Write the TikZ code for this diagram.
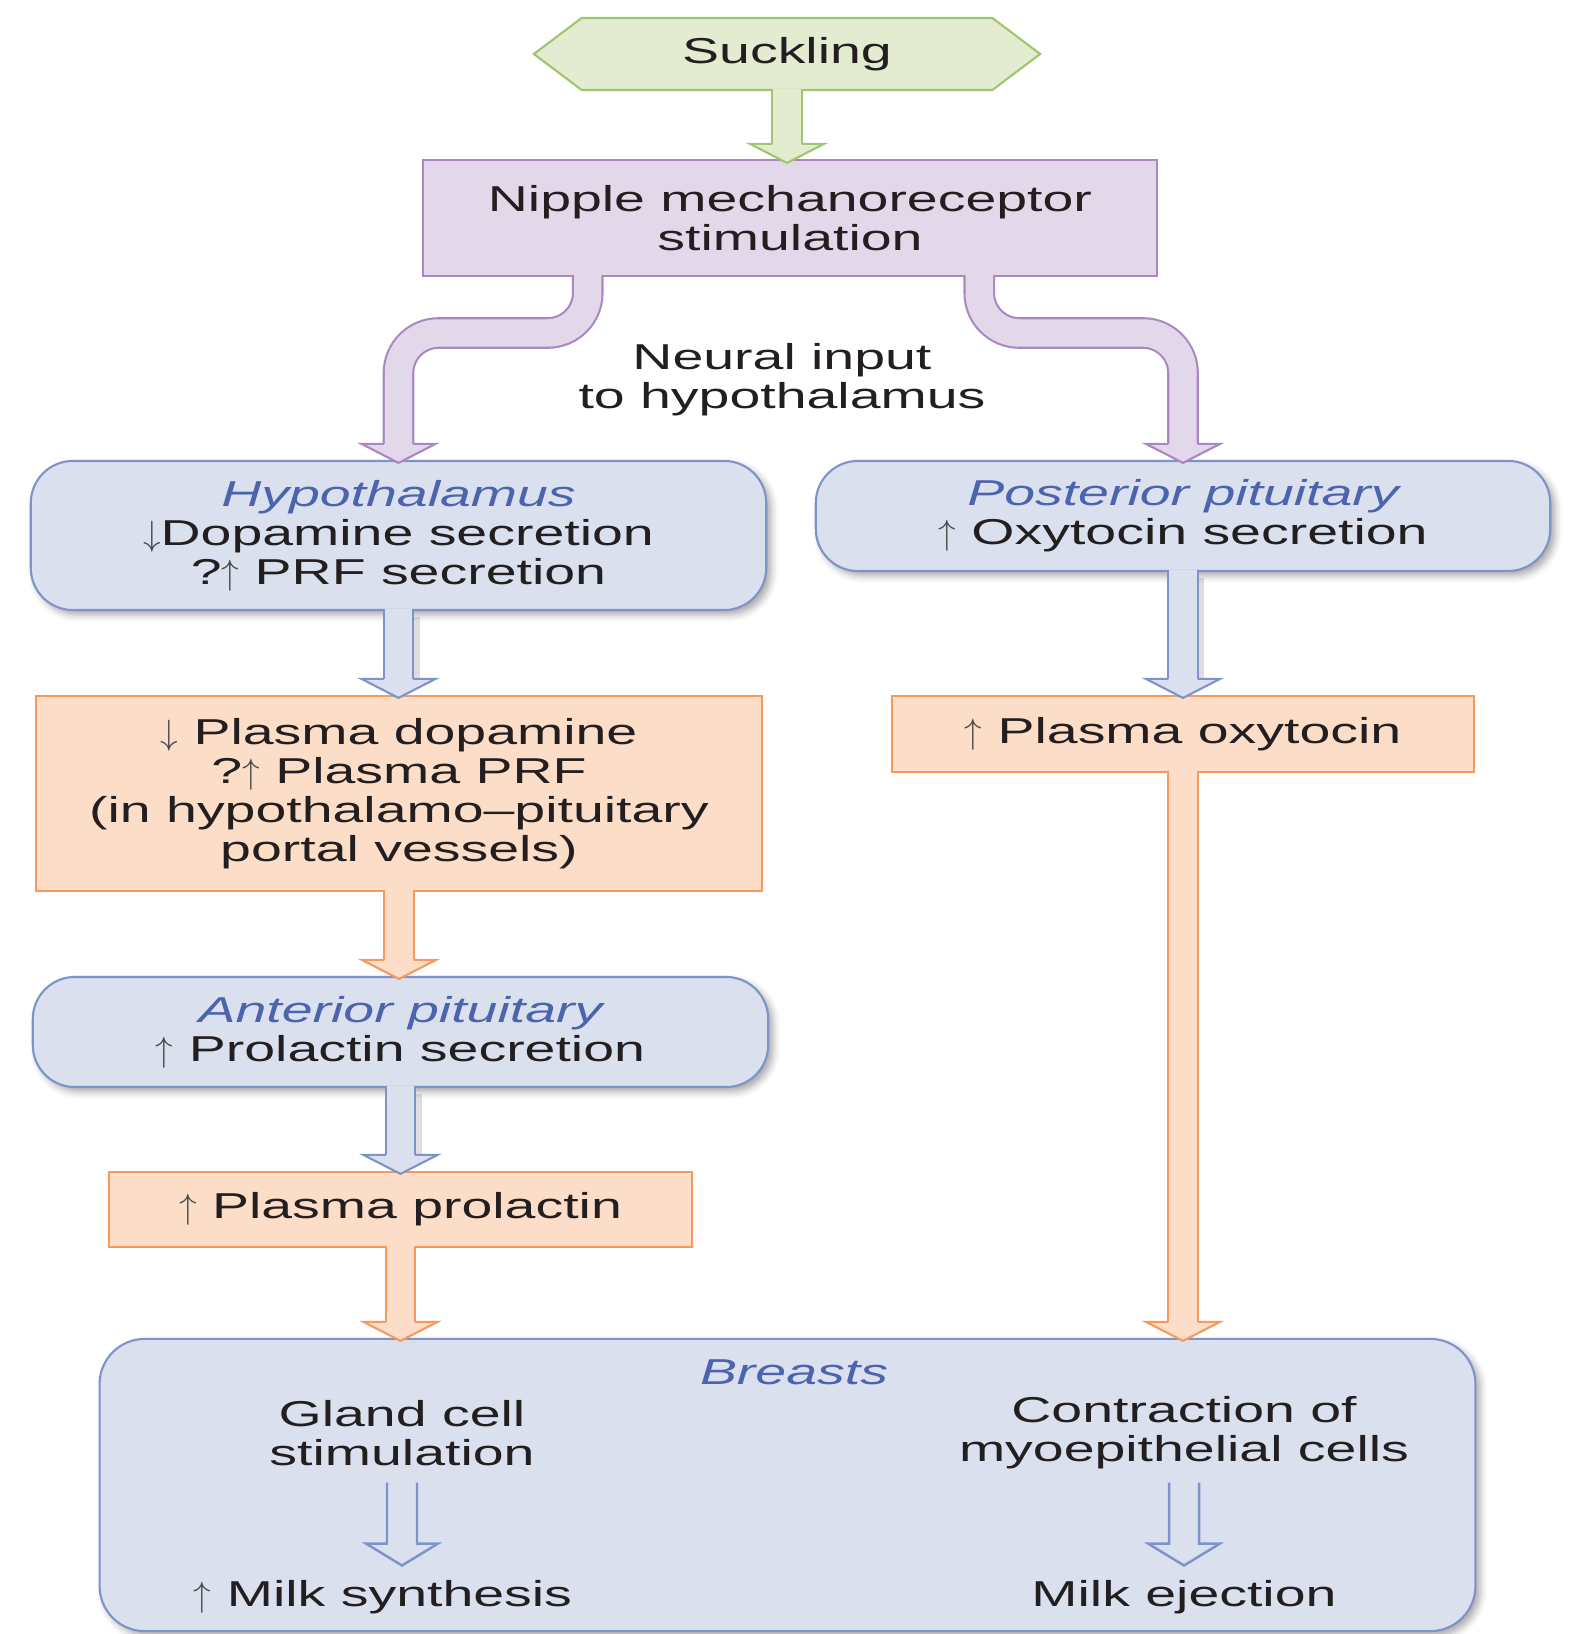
\documentclass[tikz,border=0pt]{standalone}
\usepackage{fontspec}
\setmainfont{Liberation Sans}[FakeStretch=1.54]
\usetikzlibrary{shapes.symbols,shadows.blur,calc,backgrounds}
\definecolor{grnF}{HTML}{E3ECD0}
\definecolor{grnD}{HTML}{9FC66F}
\definecolor{purF}{HTML}{E2D8EA}
\definecolor{purD}{HTML}{A987C2}
\definecolor{bluF}{HTML}{DBE0EF}
\definecolor{bluD}{HTML}{7E93C9}
\definecolor{orF}{HTML}{FCDEC8}
\definecolor{orD}{HTML}{F49A5E}
\definecolor{txt}{HTML}{231F20}
\definecolor{ital}{HTML}{4C63AD}
\definecolor{arrg}{HTML}{4A4A4A}
\newcommand\uarr{{\color{arrg}$\uparrow$}}
\newcommand\darr{{\color{arrg}$\downarrow$}}
\newcommand\itl[1]{{\color{ital}\itshape #1}}
\tikzset{
  box/.style={draw, line width=0.6pt, align=center, inner sep=0pt, text=txt},
  pbox/.style={box, fill=purF, draw=purD},
  obox/.style={box, fill=orF, draw=orD},
  bbox/.style={box, fill=bluF, draw=bluD, rounded corners=0.42cm,
    blur shadow={shadow xshift=1.3pt, shadow yshift=-1.3pt, shadow blur radius=2pt, shadow opacity=35}},
  hexa/.style={signal, signal to=west and east, signal pointer angle=74,
    fill=grnF, draw=grnD, line width=0.6pt, minimum width=5.06cm, minimum height=0.72cm,
    inner sep=0pt, text=txt},
  lbl/.style={align=center, text=txt, inner sep=0pt},
  shaft/.style 2 args={draw=#2, line width=9pt, line cap=butt,
    postaction={draw=#1, line width=7.8pt}},
  sshadow/.style={draw=black, opacity=0.13, line width=9pt, line cap=butt,
    transform canvas={xshift=1.6pt, yshift=-1pt}},
  pics/ahead/.style 2 args={code={
    \fill[#1] (-37,-19) -- (0,0) -- (37,-19) -- cycle;
    \draw[#2, line width=0.6pt, line join=miter] (-14.7,-19) -- (-37,-19) -- (0,0) -- (37,-19) -- (14.7,-19);
  }},
  pics/harrow/.style={code={
    \draw[bluD, line width=0.7pt, line join=miter] (-15,-83) -- (-15,-22) -- (-36,-22) -- (0,0) -- (36,-22) -- (15,-22) -- (15,-83);
  }}
}
\begin{document}
\begin{tikzpicture}[x=0.01cm, y=-0.01cm, font=\fontsize{10.24pt}{11.1pt}\selectfont]
\useasboundingbox (0,0) rectangle (1580,1634);

% nodes
\node[hexa] (suck) at (787,54) {Suckling};
\node[pbox, minimum width=7.34cm, minimum height=1.16cm] (nip) at (790,218)
  {Nipple mechanoreceptor\\stimulation};
\node[lbl] (neur) at (782,380) {Neural input\\to hypothalamus};
\node[bbox, minimum width=7.35cm, minimum height=1.49cm] (hyp) at (398.5,535.5)
  {\itl{Hypothalamus}\\\darr Dopamine secretion\\?\uarr\ PRF secretion};
\node[bbox, minimum width=7.34cm, minimum height=1.10cm] (post) at (1183,516)
  {\itl{Posterior pituitary}\\\uarr\ Oxytocin secretion};
\node[obox, minimum width=7.26cm, minimum height=1.95cm] (dop) at (399,793.5)
  {\darr\ Plasma dopamine\\?\uarr\ Plasma PRF\\(in hypothalamo–pituitary\\portal vessels)};
\node[obox, minimum width=5.81cm, minimum height=0.76cm] (oxy) at (1183,734)
  {\uarr\ Plasma oxytocin};
\node[bbox, minimum width=7.35cm, minimum height=1.10cm] (ant) at (400.5,1032)
  {\itl{Anterior pituitary}\\\uarr\ Prolactin secretion};
\node[obox, minimum width=5.83cm, minimum height=0.75cm] (prol) at (400.5,1209.5)
  {\uarr\ Plasma prolactin};
\node[bbox, rounded corners=0.45cm, minimum width=13.75cm, minimum height=2.92cm] (br) at (787.5,1485) {};
\node[lbl] (brl) at (794,1372) {\itl{Breasts}};
\node[lbl] (gl) at (402,1433) {Gland cell\\stimulation};
\node[lbl] (my) at (1184,1433) {Contraction of\\myoepithelial cells};
\node[lbl] (ms) at (383,1597) {\uarr\ Milk synthesis};
\node[lbl] (me) at (1184,1597) {Milk ejection};

% tip coordinates
\coordinate (g1) at ($(suck.south |- nip.north)+(0,4)$);
\coordinate (p1) at ($(hyp.north)+(0,3)$);
\coordinate (p2) at ($(post.north)+(0,3)$);
\coordinate (b1) at ($(hyp.south |- dop.north)+(0,3)$);
\coordinate (b2) at ($(post.south |- oxy.north)+(0,3)$);
\coordinate (o1) at ($(dop.south |- ant.north)+(0,3)$);
\coordinate (b3) at ($(ant.south |- prol.north)+(0,3)$);
\coordinate (o2) at ($(prol.south |- br.north)+(0,3)$);
\coordinate (o3) at ($(oxy.south |- br.north)+(0,3)$);
\coordinate (ls) at ($(nip.south west)+(166,-2)$);
\coordinate (rs) at ($(nip.south east)+(-179,-2)$);
\coordinate (mid) at (0,333);

% shadows of the blue shafts
\draw[sshadow] ($(hyp.south)+(0,2)$) -- ($(b1)+(0,-18)$);
\draw[sshadow] ($(post.south)+(0,2)$) -- ($(b2)+(0,-18)$);
\draw[sshadow] ($(ant.south)+(0,2)$) -- ($(b3)+(0,-18)$);

% shafts
\draw[shaft={grnF}{grnD}] ($(suck.south)+(0,-2)$) -- ($(g1)+(0,-18)$);
\draw[shaft={purF}{purD}, rounded corners=0.4cm] (ls) -- (ls |- mid) -- (p1 |- mid) -- ($(p1)+(0,-18)$);
\draw[shaft={purF}{purD}, rounded corners=0.4cm] (rs) -- (rs |- mid) -- (p2 |- mid) -- ($(p2)+(0,-18)$);
\draw[shaft={bluF}{bluD}] ($(hyp.south)+(0,-2)$) -- ($(b1)+(0,-18)$);
\draw[shaft={bluF}{bluD}] ($(post.south)+(0,-2)$) -- ($(b2)+(0,-18)$);
\draw[shaft={orF}{orD}] ($(dop.south)+(0,-2)$) -- ($(o1)+(0,-18)$);
\draw[shaft={bluF}{bluD}] ($(ant.south)+(0,-2)$) -- ($(b3)+(0,-18)$);
\draw[shaft={orF}{orD}] ($(prol.south)+(0,-2)$) -- ($(o2)+(0,-18)$);
\draw[shaft={orF}{orD}] ($(oxy.south)+(0,-2)$) -- ($(o3)+(0,-18)$);

\pic at (g1) {ahead={grnF}{grnD}};
\pic at (p1) {ahead={purF}{purD}};
\pic at (p2) {ahead={purF}{purD}};
\pic at (b1) {ahead={bluF}{bluD}};
\pic at (b2) {ahead={bluF}{bluD}};
\pic at (o1) {ahead={orF}{orD}};
\pic at (b3) {ahead={bluF}{bluD}};
\pic at (o2) {ahead={orF}{orD}};
\pic at (o3) {ahead={orF}{orD}};

\pic at ($(gl.south |- ms.north)+(0,-14)$) {harrow};
\pic at ($(my.south |- me.north)+(0,-14)$) {harrow};
\end{tikzpicture}
\end{document}
